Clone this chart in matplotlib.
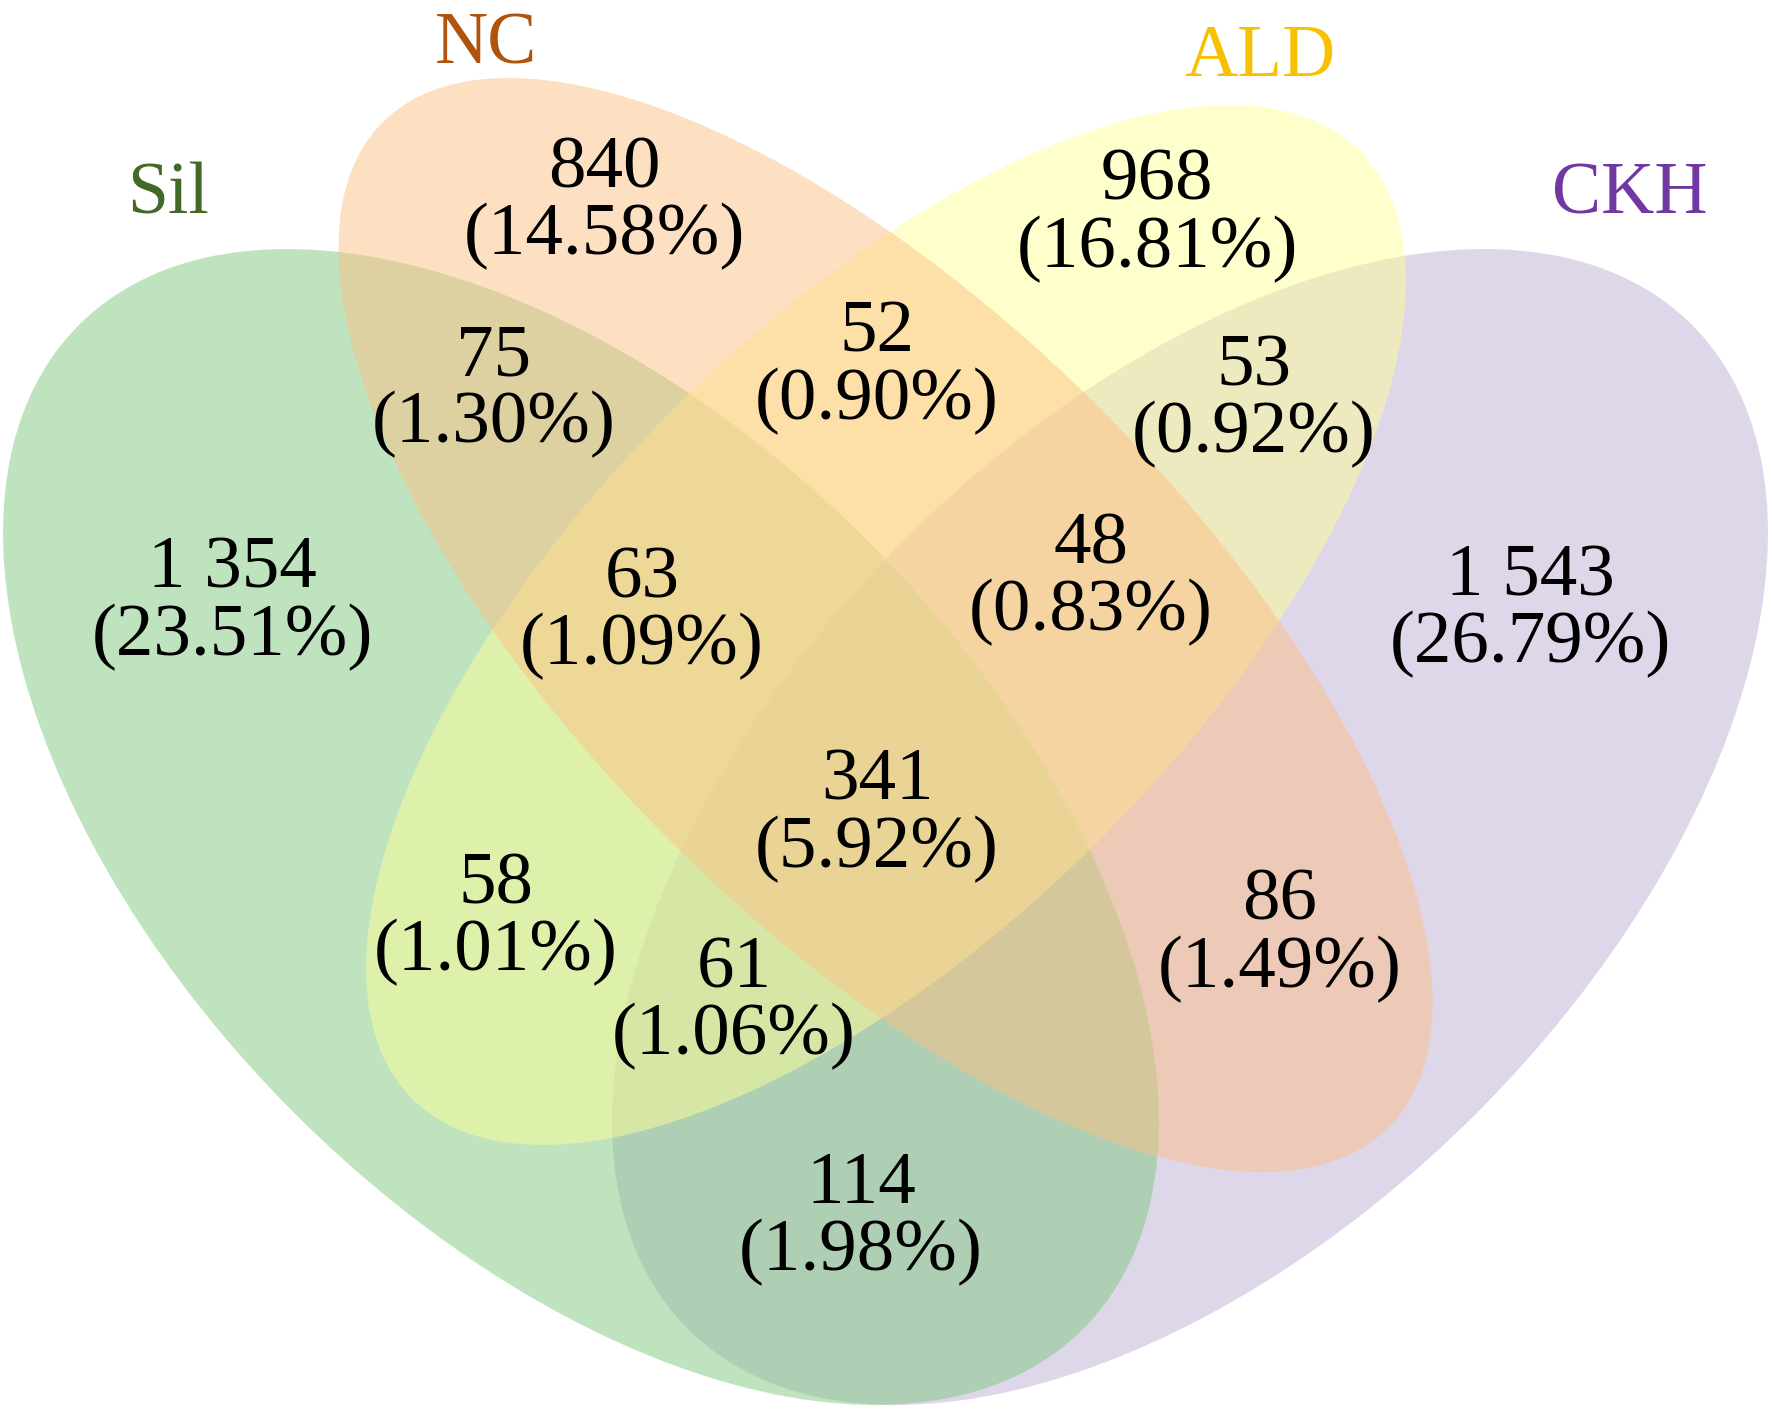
import matplotlib
matplotlib.use("Agg")
import matplotlib.pyplot as plt
from matplotlib.patches import Ellipse

# ---- data ----
set_names = ["Sil", "NC", "ALD", "CKH"]
region_counts = ["1 354", "840", "968", "1 543", "75", "52", "53",
                 "63", "48", "341", "58", "61", "86", "114"]
region_percents = ["23.51%", "14.58%", "16.81%", "26.79%", "1.30%", "0.90%", "0.92%",
                   "1.09%", "0.83%", "5.92%", "1.01%", "1.06%", "1.49%", "1.98%"]

# ---- layout (pixel space of the 1772x1409 canvas) ----
# label centre x, baseline y of count line
region_xy = [(232, 588), (604, 187), (1157, 200), (1530, 595), (494, 375),
             (877, 352), (1254, 385), (642, 597), (1091, 563), (877, 800),
             (496, 903), (734, 987), (1280, 920), (861, 1203)]
line_gap = 67

# ellipses: centre, semi-major, semi-minor, angle (draw order bottom->top)
ell_order = ["CKH", "Sil", "ALD", "NC"]
ell_geom = {
    "Sil": ((581, 827), 710, 405, 45),
    "NC": ((885.5, 625), 711, 305, 45),
    "ALD": ((886, 625), 670, 303, -45),
    "CKH": ((1190, 827), 710, 405, -45),
}
fill_colors = {"Sil": "#7FC97F", "NC": "#FDC086", "ALD": "#FFFF99", "CKH": "#BEAED4"}
name_colors = {"Sil": "#426A26", "NC": "#B0530C", "ALD": "#F7C000", "CKH": "#7038A0"}
name_xy = {"Sil": (168, 213), "NC": (486, 63), "ALD": (1260, 76), "CKH": (1630, 213)}

W, H = 1772, 1409
fig = plt.figure(figsize=(W / 100, H / 100), dpi=100)
ax = fig.add_axes([0, 0, 1, 1])
ax.set_xlim(0, W)
ax.set_ylim(H, 0)
ax.axis("off")

for z, name in enumerate(ell_order):
    (cx, cy), a, b, ang = ell_geom[name]
    ax.add_patch(Ellipse((cx, cy), 2 * a, 2 * b, angle=ang,
                         facecolor=fill_colors[name], alpha=0.5,
                         edgecolor="none", zorder=z + 1))

font = "Liberation Serif"
for cnt, pct, (x, y) in zip(region_counts, region_percents, region_xy):
    ax.text(x, y, cnt, ha="center", va="baseline", fontsize=54,
            family=font, color="black", zorder=10)
    ax.text(x, y + line_gap, "(" + pct + ")", ha="center", va="baseline",
            fontsize=54, family=font, color="black", zorder=10)

for name in set_names:
    x, y = name_xy[name]
    ax.text(x, y, name, ha="center", va="baseline", fontsize=53,
            family=font, color=name_colors[name], zorder=10)

fig.savefig("out.png", dpi=100, facecolor="white")
